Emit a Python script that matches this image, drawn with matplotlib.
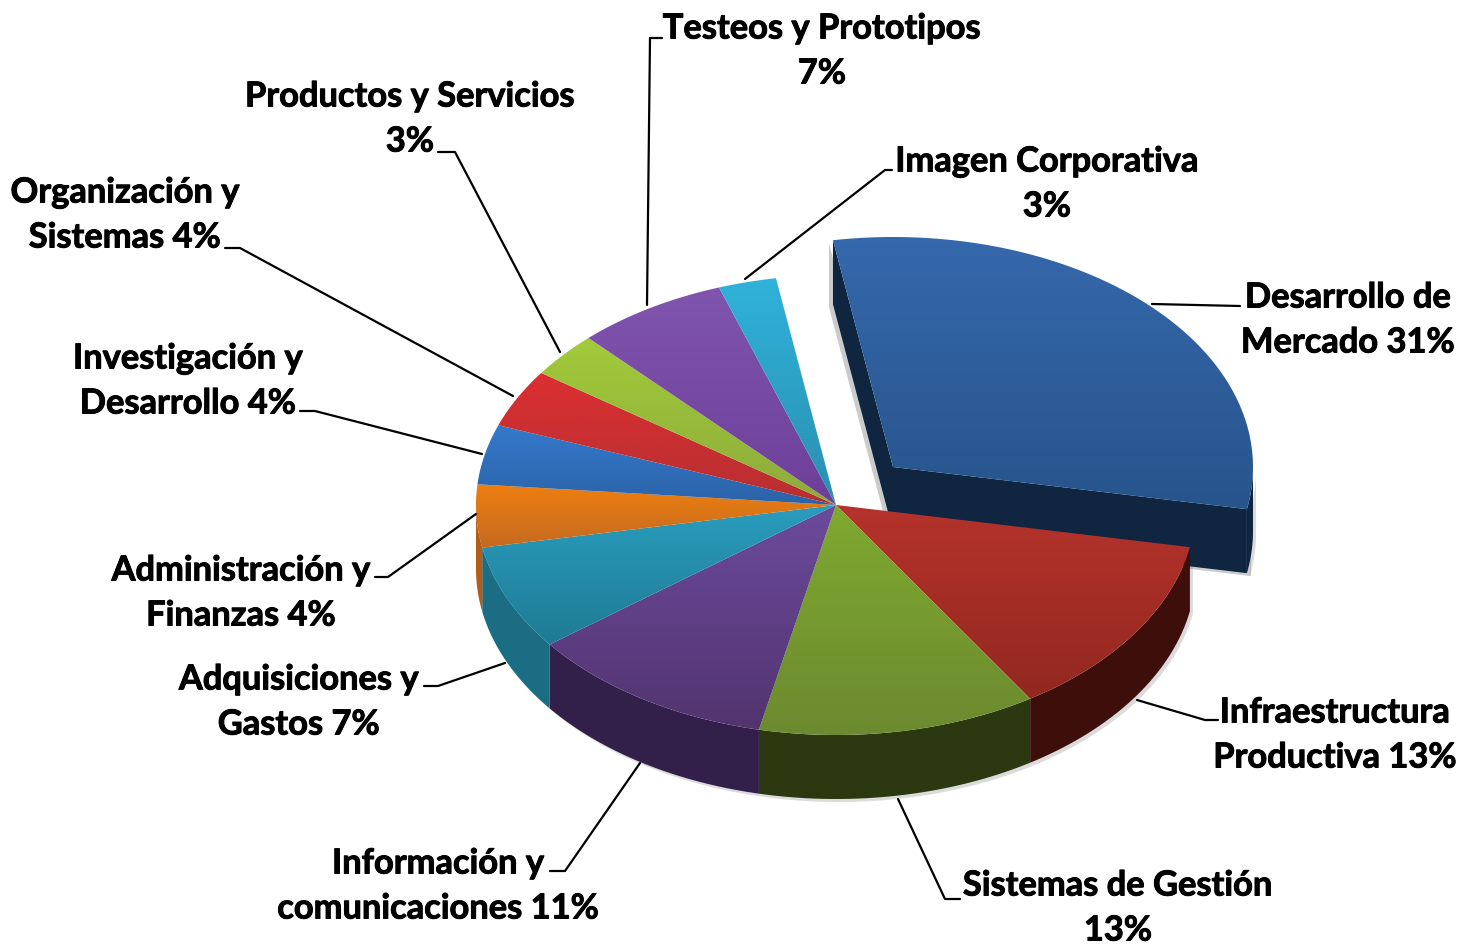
import matplotlib
matplotlib.use('Agg')
import matplotlib.pyplot as plt
import matplotlib.patheffects as pe
from matplotlib.colors import LinearSegmentedColormap
import numpy as np

# Datos (sentido horario desde arriba)
etiquetas = ['Desarrollo de\nMercado 31%', 'Infraestructura\nProductiva 13%', 'Sistemas de Gestión\n13%',
             'Información y\ncomunicaciones 11%', 'Adquisiciones y\nGastos 7%', 'Administración y\nFinanzas 4%',
             'Investigación y\nDesarrollo 4%', 'Organización y\nSistemas 4%', 'Productos y Servicios\n3%',
             'Testeos y Prototipos\n7%', 'Imagen Corporativa\n3%']
valores = [30.6, 13.0, 12.5, 11.2, 7.4, 4.4, 4.2, 4.1, 3.2, 6.8, 2.6]
explode_px = [(57, -38), (0, 0), (0, 0), (0, 0), (0, 0), (0, 0), (0, 0), (0, 0), (0, 0), (0, 0), (0, 0)]

color_arriba = ['#3568AC', '#B5332C', '#7FA92F', '#6C4A9C', '#2A9DBE', '#EE7F10', '#3579CB', '#DB2F31', '#A2CB3A', '#8055AE', '#30B2DA']
color_abajo = ['#27548B', '#92281F', '#6C8A30', '#52346F', '#1F7B94', '#C46A20', '#2B63A8', '#B72F32', '#8DAB3A', '#6D3F98', '#2A8FB0']
color_lado = ['#0F2540', '#3E0E0B', '#2C3810', '#33204A', '#1B6D83', '#B35E18', '#1D4474', '#7D1F20', '#5F7A22', '#46306E', '#1B6D83']

# posiciones de etiquetas y lineas guia, en pixeles de la imagen
pos_etiqueta = [(1348, 320), (1335, 735), (1118, 908), (438, 886), (299, 702), (241, 593), (188, 381), (125, 215), (410, 119), (822, 51), (1047, 184)]
guias = [[(1152, 304), (1240, 306)],
         [(1137, 700), (1205, 720), (1218, 720)],
         [(898, 799), (945, 899), (960, 899)],
         [(640, 763), (565, 871), (550, 871)],
         [(505, 663), (438, 686), (424, 686)],
         [(476, 514), (388, 577), (375, 577)],
         [(482, 454), (315, 411), (300, 411)],
         [(513, 396), (240, 248), (225, 248)],
         [(560, 352), (455, 152), (438, 152)],
         [(647, 305), (650, 38), (662, 38)],
         [(745, 279), (885, 170), (892, 170)]]

cx, cy = 836, 505
rx, ry = 360, 230
prof = 64
inicio = 99.6


def degradado(ax, poly, c1, c2):
    # relleno vertical recortado al poligono
    cmap = LinearSegmentedColormap.from_list('g', [c1, c2])
    x0, y0 = poly.min(axis=0)
    x1, y1 = poly.max(axis=0)
    im = ax.imshow(np.linspace(0, 1, 128).reshape(-1, 1), cmap=cmap, extent=(x0, x1, y1, y0), aspect='auto', zorder=ax.zz)
    p = plt.Polygon(poly, closed=True, fc='none', ec='none', transform=ax.transData)
    ax.add_patch(p)
    im.set_clip_path(p)
    ax.zz += 1


def arco(t1, t2, ox, oy):
    t = np.radians(np.linspace(t1, t2, 80))
    return np.column_stack([cx + ox + rx * np.cos(t), cy + oy - ry * np.sin(t)])


fig = plt.figure(figsize=(14.61, 9.47), dpi=100)
ax = fig.add_axes([0, 0, 1, 1])
ax.zz = 2

angulos = inicio - np.cumsum([0] + valores) * 3.6
orden = list(range(len(valores)))

# pared de cada porcion y luego la cara superior
for i in orden:
    a1, a2 = angulos[i], angulos[i + 1]
    ox, oy = explode_px[i]
    centro = np.array([cx + ox, cy + oy])
    if i == 0:
        # las paredes rectas solo se ven en la porcion separada
        p1 = arco(a1, a1, ox, oy)[0]
        p2 = arco(a2, a2, ox, oy)[0]
        for a, b in [(p1, centro), (centro, p2)]:
            pared = np.array([a, b, b + [0, prof], a + [0, prof]])
            sombra = pared + [-4 if a is p1 else 4, 3]
            ax.fill(sombra[:, 0], sombra[:, 1], color='#999999', alpha=0.5, lw=0, zorder=1)
            ax.fill(pared[:, 0], pared[:, 1], color=color_lado[i], lw=0, zorder=ax.zz)
            ax.zz += 1
    # tramos del borde que miran hacia abajo
    desde = a2 % 360
    hasta = desde + (a1 - a2)
    for base in (180, 540):
        t1, t2 = max(desde, base), min(hasta, base + 180)
        if t2 > t1:
            arr = arco(t1, t2, ox, oy)
            aba = arr[::-1] + [0, prof]
            pared = np.vstack([arr, aba])
            ax.fill(pared[:, 0] + 3, pared[:, 1] + 3, color='#999999', alpha=0.35, lw=0, zorder=1)
            ax.fill(pared[:, 0], pared[:, 1], color=color_lado[i], lw=0, zorder=ax.zz)
            ax.zz += 1
    cara = np.vstack([centro, arco(a1, a2, ox, oy)])
    degradado(ax, cara, color_arriba[i], color_abajo[i])

for i, etiqueta in enumerate(etiquetas):
    g = np.array(guias[i])
    ax.plot(g[:, 0], g[:, 1], color='black', lw=1.6, solid_capstyle='round', zorder=60)
    t = ax.text(pos_etiqueta[i][0], pos_etiqueta[i][1], etiqueta, family='Lato', fontweight='bold', fontsize=24.8,
                ha='center', va='center', linespacing=1.5, color='black', zorder=70)
    t.set_path_effects([pe.withStroke(linewidth=0.7, foreground='black')])

ax.set_xlim(0, 1461)
ax.set_ylim(947, 0)
ax.axis('off')
fig.savefig('out.png', dpi=100, facecolor='white')
